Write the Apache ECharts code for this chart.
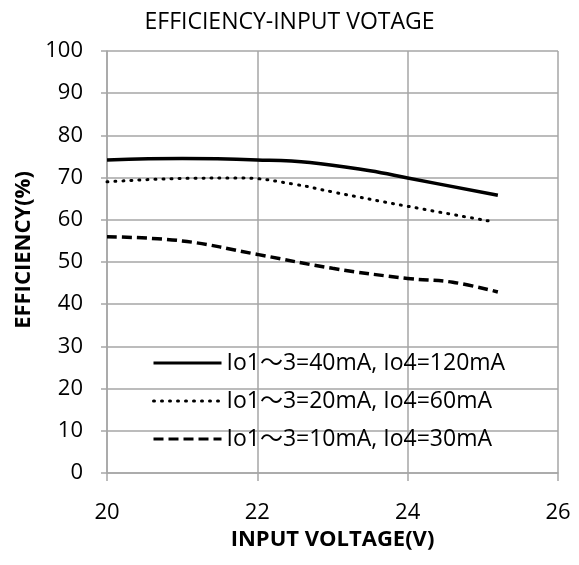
<!DOCTYPE html>
<html>
<head>
<meta charset="utf-8">
<script src="https://cdn.jsdelivr.net/npm/echarts@6/dist/echarts.min.js"></script>
<style>
  html, body { margin: 0; padding: 0; background: #fff; }
</style>
</head>
<body>
<div id="container" style="width:579px; height:565px"></div>
<script>
// input voltage (V) vs efficiency (%)
var names = [
  "Io1～3=40mA, Io4=120mA",
  "Io1～3=20mA, Io4=60mA",
  "Io1～3=10mA, Io4=30mA"
];
var load40 = [[20, 74.2], [21, 74.5], [22, 74.2], [22.7, 73.6], [23.5, 71.6], [24, 69.9], [25.2, 65.8]];
var load20 = [[20, 69.0], [21, 69.8], [21.8, 69.9], [22.5, 68.4], [23, 66.6], [24, 63.2], [25.15, 59.5]];
var load10 = [[20, 56.0], [21, 55.0], [22, 51.8], [23, 48.5], [24, 46.1], [24.6, 45.2], [25.2, 42.9]];

var font = "'Open Sans', 'Noto Sans CJK JP', sans-serif";
var gridGray = "#a6a6a6";

var myChart = echarts.init(document.getElementById("container"));
myChart.setOption({
  backgroundColor: "#fff",
  animation: false,
  title: {
    text: "EFFICIENCY-INPUT VOTAGE",
    left: "center",
    top: 6,
    textStyle: { color: "#000", fontWeight: "normal", fontSize: 23, fontFamily: font }
  },
  grid: { left: 107, right: 21, top: 51, bottom: 92 },
  legend: {
    orient: "vertical",
    left: 152,
    top: 351,
    padding: 0,
    itemWidth: 68,
    itemHeight: 14,
    itemGap: 14,
    data: names,
    itemStyle: { opacity: 0 },
    lineStyle: { width: 3 },
    textStyle: { color: "#000", fontSize: 23, lineHeight: 24, fontFamily: font }
  },
  xAxis: {
    type: "value",
    min: 20, max: 26, interval: 2,
    name: "INPUT VOLTAGE(V)",
    nameLocation: "middle",
    nameGap: 53,
    nameTextStyle: { color: "#000", fontWeight: "bold", fontSize: 22, fontFamily: font },
    axisLine: { lineStyle: { color: gridGray, width: 1.5 } },
    axisTick: { show: true, length: 8, inside: false, lineStyle: { color: gridGray, width: 1.5 } },
    axisLabel: { color: "#000", fontSize: 22, margin: 29, fontFamily: font },
    splitLine: { show: true, lineStyle: { color: gridGray, width: 1.5 } }
  },
  yAxis: {
    type: "value",
    min: 0, max: 100, interval: 10,
    name: "EFFICIENCY(%)",
    nameLocation: "middle",
    nameGap: 70,
    nameRotate: 90,
    nameTextStyle: { color: "#000", fontWeight: "bold", fontSize: 22, fontFamily: font, padding: [0, 0, 0, 24] },
    axisLine: { show: true, lineStyle: { color: gridGray, width: 1.5 } },
    axisTick: { show: true, length: 6, lineStyle: { color: gridGray, width: 1.5 } },
    axisLabel: { color: "#000", fontSize: 22, margin: 24, fontFamily: font },
    splitLine: { show: true, lineStyle: { color: gridGray, width: 1.5 } }
  },
  series: [
    {
      name: names[0], type: "line", data: load40, smooth: 0.4, symbol: "none",
      lineStyle: { color: "#000", width: 3.5 }, itemStyle: { color: "#000" }
    },
    {
      name: names[1], type: "line", data: load20, smooth: 0.4, symbol: "none",
      lineStyle: { color: "#000", width: 3, type: [1, 7], cap: "round" }, itemStyle: { color: "#000" }
    },
    {
      name: names[2], type: "line", data: load10, smooth: 0.4, symbol: "none",
      lineStyle: { color: "#000", width: 3.5, type: [10, 5] }, itemStyle: { color: "#000" }
    }
  ]
});
</script>
</body>
</html>
